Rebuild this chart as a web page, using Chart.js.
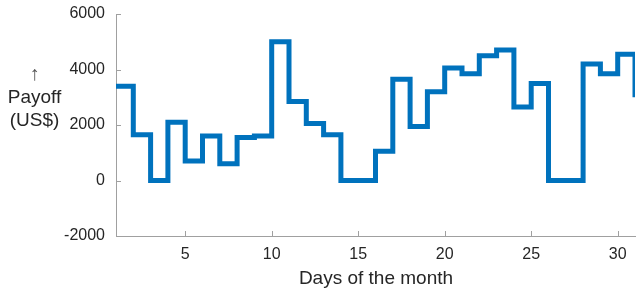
<!DOCTYPE html>
<html lang="en">
<head>
    <meta charset="UTF-8">
    <title>Payoff per day</title>
    <script src="https://cdn.jsdelivr.net/npm/chart.js"></script>
    <style>
        body {
            margin: 0;
            padding: 0;
            background: #fff;
            font-family: "Liberation Sans", Arial, sans-serif;
            color: #262626;
        }

        .wrap {
            position: relative;
            width: 636px;
            height: 295px;
            overflow: hidden;
        }

        .y-title {
            position: absolute;
            left: 0;
            top: 62px;
            width: 69px;
            text-align: center;
            font-size: 19px;
            line-height: 23px;
        }

        .y-title .arrow {
            color: #555;
            font-size: 20px;
        }

        .x-title {
            position: absolute;
            left: 116px;
            width: 520px;
            top: 267px;
            text-align: center;
            font-size: 19px;
        }
    </style>
</head>
<body>
    <div class="wrap">
        <canvas id="payoffChart" width="636" height="295"></canvas>
        <div class="y-title"><span class="arrow">&uarr;</span><br>Payoff<br>(US$)</div>
        <div class="x-title">Days of the month</div>
    </div>

    <script>
        // Days 1..31 and the payoff held over each day
        const days = [1, 2, 3, 4, 5, 6, 7, 8, 9, 10, 11, 12, 13, 14, 15, 16,
                      17, 18, 19, 20, 21, 22, 23, 24, 25, 26, 27, 28, 29, 30, 31];
        const payoff = [3400, 1650, 0, 2100, 700, 1600, 600, 1550, 1600, 5000, 2850,
                        2050, 1650, 0, 0, 1050, 3650, 1950, 3200, 4050, 3850, 4500,
                        4700, 2650, 3500, 0, 0, 4200, 3850, 4550, 3000];
        const xTicks = [5, 10, 15, 20, 25, 30];
        const yTicks = [-2000, 0, 2000, 4000, 6000];

        const axisColor = "#a0a0a0";

        // little tick marks pointing into the plot, like the original
        const innerTicks = {
            id: "innerTicks",
            afterDraw(chart) {
                const ctx = chart.ctx;
                const x = chart.scales.x;
                const y = chart.scales.y;
                const len = 5;
                ctx.save();
                ctx.strokeStyle = axisColor;
                ctx.lineWidth = 1;
                ctx.beginPath();
                xTicks.forEach(t => {
                    const px = Math.round(x.getPixelForValue(t)) + 0.5;
                    ctx.moveTo(px, y.bottom);
                    ctx.lineTo(px, y.bottom - len);
                });
                yTicks.forEach(t => {
                    const py = Math.round(y.getPixelForValue(t)) + 0.5;
                    ctx.moveTo(x.left, py);
                    ctx.lineTo(x.left + len, py);
                });
                ctx.stroke();
                ctx.restore();
            }
        };

        const ctx = document.getElementById("payoffChart").getContext("2d");
        new Chart(ctx, {
            type: "line",
            data: {
                labels: days,
                datasets: [{
                    data: days.map((d, i) => ({ x: d, y: payoff[i] })),
                    stepped: "before",
                    borderColor: "#0072bd",
                    borderWidth: 5,
                    pointRadius: 0,
                    fill: false,
                    borderJoinStyle: "miter",
                    borderCapStyle: "butt"
                }]
            },
            options: {
                responsive: false,
                animation: false,
                layout: { padding: { top: 14, right: 1, left: 0, bottom: 0 } },
                plugins: {
                    legend: { display: false },
                    tooltip: { enabled: false }
                },
                scales: {
                    x: {
                        type: "linear",
                        min: 1,
                        max: 31,
                        afterBuildTicks: scale => {
                            scale.ticks = xTicks.map(v => ({ value: v }));
                        },
                        afterFit: scale => {
                            scale.height = 59;
                            scale.paddingLeft = 0;
                            scale.paddingRight = 0;
                        },
                        grid: { drawOnChartArea: false, drawTicks: false },
                        border: { color: axisColor, width: 1 },
                        ticks: {
                            padding: 9,
                            color: "#262626",
                            font: { family: "Liberation Sans", size: 16 },
                            maxRotation: 0,
                            callback: v => String(v)
                        }
                    },
                    y: {
                        min: -2000,
                        max: 6000,
                        afterBuildTicks: scale => {
                            scale.ticks = yTicks.map(v => ({ value: v }));
                        },
                        afterFit: scale => {
                            scale.width = 116;
                            scale.paddingTop = 0;
                            scale.paddingBottom = 0;
                        },
                        grid: { drawOnChartArea: false, drawTicks: false },
                        border: { color: axisColor, width: 1 },
                        ticks: {
                            padding: 11,
                            color: "#262626",
                            font: { family: "Liberation Sans", size: 16 },
                            callback: v => String(v)
                        }
                    }
                }
            },
            plugins: [innerTicks]
        });
    </script>
</body>
</html>
